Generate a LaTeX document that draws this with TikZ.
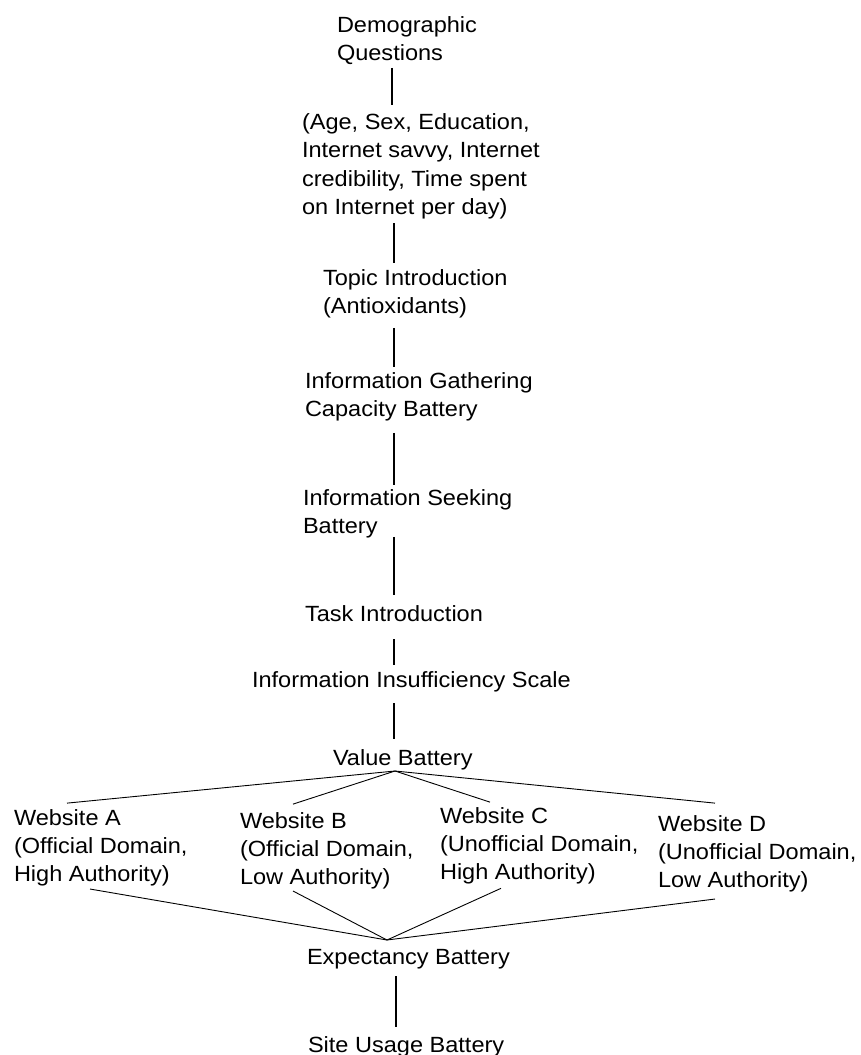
\documentclass[tikz,border=0pt]{standalone}
\usepackage{fontspec}
\setmainfont{Liberation Sans}[FakeStretch=1.07]
\newcommand{\mlt}[1]{\begin{tabular}[t]{@{}l@{}}#1\end{tabular}}
\begin{document}
\begin{tikzpicture}[x=1pt,y=-1pt,
  txt/.style={anchor=base west, inner sep=0pt, outer sep=0pt, font=\fontsize{22}{28.4}\selectfont},
  conn/.style={line width=1.1pt},
  fan/.style={line width=0.9pt}]
\useasboundingbox[fill=white] (0,0) rectangle (861,1055);

\node[txt] (dem) at (337,32) {\mlt{Demographic\\Questions}};
\node[txt] (age) at (302,129.5) {\mlt{(Age, Sex, Education,\\Internet savvy, Internet\\credibility, Time spent\\on Internet per day)}};
\node[txt] (topic) at (323,285) {\mlt{Topic Introduction\\(Antioxidants)}};
\node[txt] (igc) at (305,388) {\mlt{Information Gathering\\Capacity Battery}};
\node[txt] (isb) at (303,505) {\mlt{Information Seeking\\Battery}};
\node[txt] (task) at (305,621) {\mlt{Task Introduction}};
\node[txt] (iis) at (252,687) {\mlt{Information Insufficiency Scale}};
\node[txt] (val) at (333,765) {\mlt{Value Battery}};
\node[txt] (wa) at (14,825) {\mlt{Website A\\(Official Domain,\\High Authority)}};
\node[txt] (wb) at (240,828) {\mlt{Website B\\(Official Domain,\\Low Authority)}};
\node[txt] (wc) at (440,823) {\mlt{Website C\\(Unofficial Domain,\\High Authority)}};
\node[txt] (wd) at (658,831) {\mlt{Website D\\(Unofficial Domain,\\Low Authority)}};
\node[txt] (exp) at (307,964) {\mlt{Expectancy Battery}};
\node[txt] (site) at (308,1052) {\mlt{Site Usage Battery}};

\coordinate (sp) at (394,0);
\coordinate (sp1) at (392,0);
\coordinate (sp2) at (396,0);
\coordinate (vt) at (395,771);
\coordinate (et) at (387,940);

\draw[conn, shorten <=-1pt, shorten >=4.6pt] (dem.south -| sp1) -- (age.north -| sp1);
\draw[conn, shorten >=2pt] (age.south -| sp) -- (topic.north -| sp);
\draw[conn, shorten <=6pt, shorten >=1pt] (topic.south -| sp) -- (igc.north -| sp);
\draw[conn, shorten <=8pt] (igc.south -| sp) -- (isb.north -| sp);
\draw[conn, shorten <=-5pt, shorten >=6pt] (isb.south -| sp) -- (task.north -| sp);
\draw[conn, shorten <=9.5pt, shorten >=2pt] (task.south -| sp) -- (iis.north -| sp);
\draw[conn, shorten <=7.5pt, shorten >=6pt] (iis.south -| sp) -- (val.north -| sp);
\draw[conn, shorten <=3.5pt, shorten >=5pt] (exp.south -| sp2) -- (site.north -| sp2);

\draw[fan] (vt) -- ([shift={(53,-2)}]wa.north west);
\draw[fan] (vt) -- ([shift={(53,-4)}]wb.north west);
\draw[fan] (vt) -- ([shift={(50,-1)}]wc.north west);
\draw[fan] (vt) -- ([shift={(57,-8)}]wd.north west);

\draw[fan] ([shift={(76,-1.3)}]wa.south west) -- (et);
\draw[fan] ([shift={(53,-2.3)}]wb.south west) -- (et);
\draw[fan] ([shift={(61,0)}]wc.south west) -- (et);
\draw[fan] ([shift={(57,2.7)}]wd.south west) -- (et);
\end{tikzpicture}
\end{document}
